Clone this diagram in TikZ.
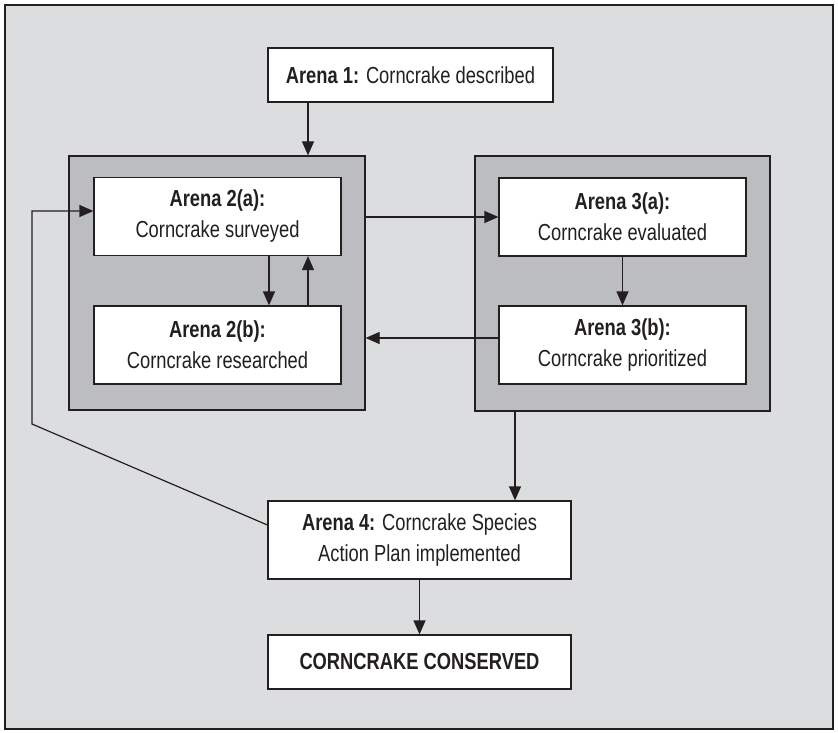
\documentclass[tikz,border=0pt]{standalone}
\usepackage{fontspec}
\setmainfont{Liberation Sans}[FakeStretch=0.79]
\usetikzlibrary{arrows.meta}
\definecolor{paneltone}{HTML}{DCDDDF}
\definecolor{grouptone}{HTML}{BCBDC0}
\definecolor{inkline}{HTML}{231F20}

\begin{document}
\begin{tikzpicture}[x=1pt, y=-1pt,
    every node/.style={font=\fontsize{23.2}{31}\selectfont, text=inkline},
    arena/.style={draw=inkline, line width=1.2pt, fill=white, inner sep=0pt,
      align=center, minimum width=247pt, minimum height=78pt},
    group/.style={draw=inkline, line width=1.2pt, fill=grouptone, inner sep=0pt},
    flow/.style={draw=inkline, line width=1.2pt, -{Triangle[length=14pt,width=12pt]}},
  ]
  \useasboundingbox (0,0) rectangle (838,733);
  \draw[inkline, line width=1.3pt, fill=paneltone] (5,5) rectangle (833,729);

  % the two grey groups
  \node[group, minimum width=296pt, minimum height=254pt] (groupL) at (217,283) {};
  \node[group, minimum width=295pt, minimum height=255pt] (groupR) at (622.5,283.5) {};

  \node[arena, minimum width=285pt, minimum height=54pt] (one) at (410.5,75)
    {\textbf{Arena 1:} Corncrake described};
  \node[arena] (twoA) at (217.5,216.5) {\textbf{Arena 2(a):}\\Corncrake surveyed};
  \node[arena] (twoB) at (217.5,345) {\textbf{Arena 2(b):}\\Corncrake researched};
  \node[arena] (threeA) at (622.5,217) {\textbf{Arena 3(a):}\\Corncrake evaluated};
  \node[arena] (threeB) at (622.5,345) {\textbf{Arena 3(b):}\\Corncrake prioritized};
  \node[arena, minimum width=303pt] (four) at (419.5,540)
    {\textbf{Arena 4:} Corncrake Species\\Action Plan implemented};
  \node[arena, minimum width=303pt, minimum height=54pt] (done) at (419.5,662)
    {\textbf{CORNCRAKE CONSERVED}};

  \draw[flow] ([xshift=-102.5pt]one.south) -- ([xshift=-102.5pt]one.south |- groupL.north);
  \draw[flow] ([xshift=51.5pt]twoA.south) -- ([xshift=51.5pt]twoB.north);
  \draw[flow] ([xshift=90.5pt]twoB.north) -- ([xshift=90.5pt]twoA.south);
  \draw[flow] (groupL.east |- threeA.west) -- (threeA.west);
  \draw[flow] (threeA.south) -- (threeB.north);
  \draw[flow] ([yshift=7pt]threeB.west) -- ([yshift=7pt]threeB.west -| groupL.east);
  \draw[flow] ([xshift=95.5pt]four.north |- groupR.south) -- ([xshift=95.5pt]four.north);
  \draw[flow] (four.south) -- (done.north);

  % back to surveying
  \coordinate (bend) at (32,424);
  \coordinate (entry) at ([yshift=5.5pt]twoA.west);
  \draw[flow] ([yshift=15pt]four.west) -- (bend) -- (bend |- entry) -- (entry);
\end{tikzpicture}
\end{document}
